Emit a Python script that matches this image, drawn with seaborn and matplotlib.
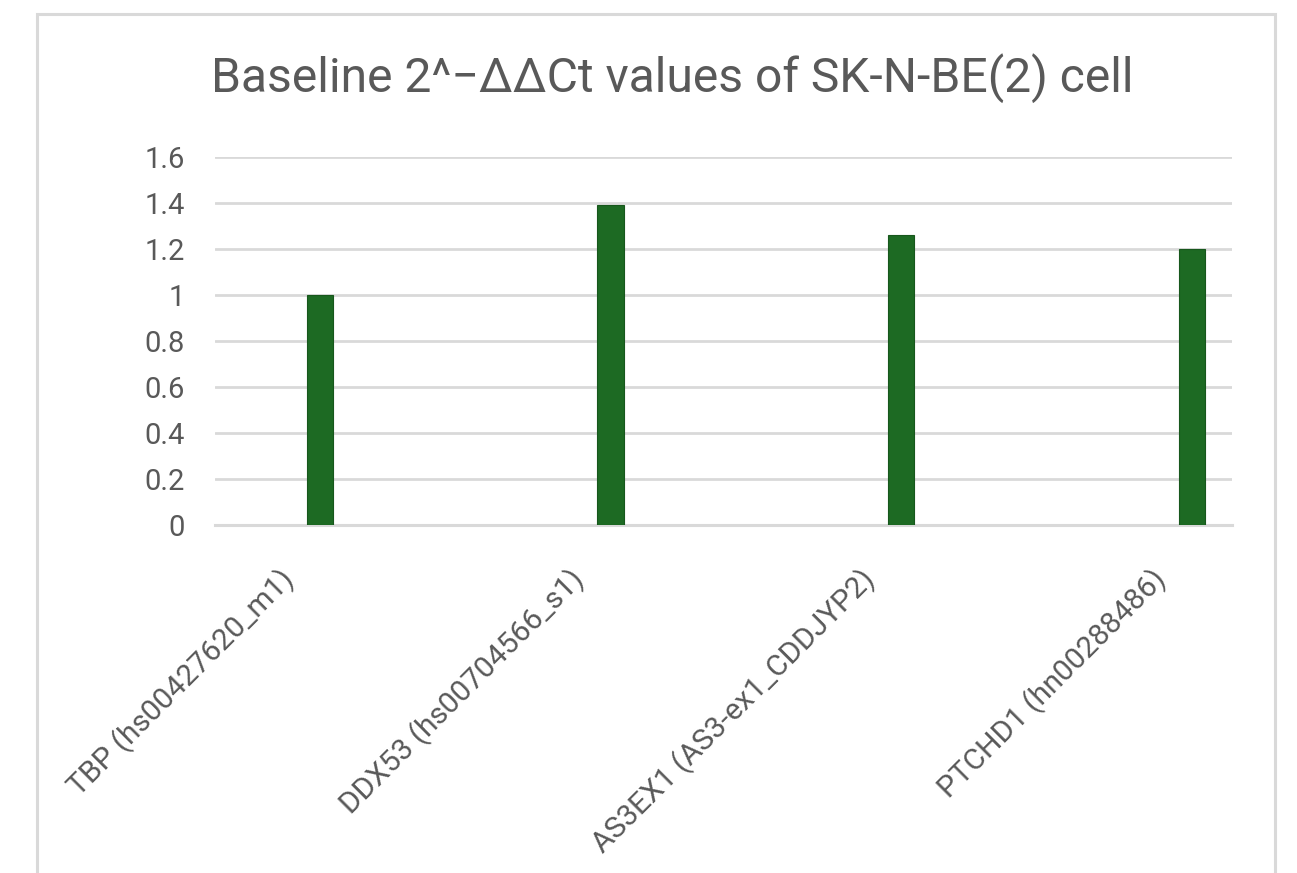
import matplotlib
matplotlib.use("Agg")
import matplotlib.pyplot as plt
import seaborn as sns
import pandas as pd
from matplotlib.patches import Rectangle

# Expression values per assay
genes = [
    "TBP (hs00427620_m1)",
    "DDX53 (hs00704566_s1)",
    "AS3EX1 (AS3-ex1_CDDJYP2)",
    "PTCHD1 (hn00288486)",
]
fold_change = [1.00, 1.39, 1.26, 1.20]
y_ticks = [0, 0.2, 0.4, 0.6, 0.8, 1, 1.2, 1.4, 1.6]
y_tick_labels = ["0", "0.2", "0.4", "0.6", "0.8", "1", "1.2", "1.4", "1.6"]
title = "Baseline 2^\u2212\u0394\u0394Ct values of SK-N-BE(2) cell"

sns.set_theme(style="white")
plt.rcParams["font.family"] = ["Roboto", "DejaVu Sans"]

text_color = "#595959"
grid_color = "#d9d9d9"
bar_color = "#1d6a23"

fig = plt.figure(figsize=(12.97, 8.73), dpi=100)
fig.patch.set_facecolor("white")

# chart frame (runs past the lower edge)
fig.patches.append(Rectangle((37 / 1297, -0.2), (1275 - 37) / 1297, 1.2 - 14 / 873,
                             transform=fig.transFigure, fill=False,
                             edgecolor=grid_color, linewidth=2.2, zorder=0))

ax = fig.add_axes([215 / 1297, 1 - 525 / 873, (1232 - 215) / 1297, (525 - 156.7) / 873])

df = pd.DataFrame({"gene": genes, "value": fold_change})
sns.barplot(data=df, x="gene", y="value", color=bar_color, width=0.09,
            saturation=1, edgecolor="#17571c", linewidth=0.8, ax=ax, zorder=3)

ax.set_xlim(-0.361, 3.139)
ax.set_ylim(0, 1.6)
ax.set_yticks(y_ticks)
ax.set_yticklabels(y_tick_labels)
ax.yaxis.grid(True, color=grid_color, linewidth=2.0)
ax.set_axisbelow(True)
for side in ["left", "right", "top"]:
    ax.spines[side].set_visible(False)
ax.spines["bottom"].set_color(grid_color)
ax.spines["bottom"].set_linewidth(2.2)
ax.set_xlabel("")
ax.set_ylabel("")

ax.tick_params(axis="y", length=0, pad=22, labelsize=21, labelcolor=text_color)
ax.tick_params(axis="x", length=0, pad=36, labelsize=21.5, labelcolor=text_color)

offs = 0.105
ax.set_xticks([i - offs for i in range(len(genes))])
ax.set_xticklabels(genes, rotation=45, ha="right", va="center",
                   rotation_mode="anchor")

fig.text(672 / 1297, 1 - 92 / 873, title, ha="center", va="baseline",
         fontsize=34.6, color=text_color)

fig.savefig("out.png", dpi=100, facecolor="white")
